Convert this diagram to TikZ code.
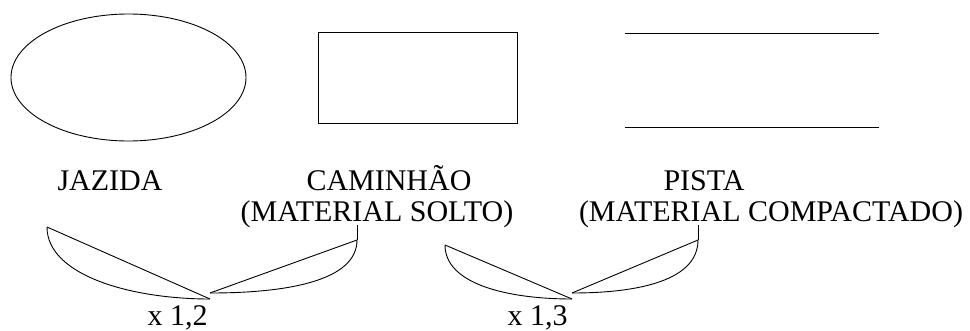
\documentclass[tikz,border=0pt]{standalone}
\usepackage{fontspec}
\setmainfont{Liberation Serif}
\begin{document}
\begin{tikzpicture}[x=1pt,y=-1pt,line width=0.9pt,
  lbl/.style={anchor=base,inner sep=0pt,font=\fontsize{30}{34}\selectfont}]
\useasboundingbox (0,0) rectangle (970,330);
\draw (128.5,77.5) ellipse [x radius=117.5,y radius=63.5];
\draw (318,32) rectangle (517,123);
\draw (625,33)--(879,33);
\draw (625,127)--(879,127);
\node[lbl] (jazida) at (110,190) {JAZIDA};
\node[lbl] (caminhao) at (389,190) {CAMINHÃO};
\node[lbl] (solto) at (377,221) {(MATERIAL SOLTO)};
\node[lbl] (pista) at (704,190) {PISTA};
\node[lbl] (compactado) at (771,221) {(MATERIAL COMPACTADO)};
\coordinate (a1) at (47,227);
\coordinate (b1) at (210,299);
\coordinate (c1) at (210,293);
\coordinate (d1) at (357,240);
\coordinate (a2) at (445,245);
\coordinate (b2) at (572,299);
\coordinate (c2) at (572,293);
\coordinate (d2) at (698,240);
\draw (a1)--(b1);
\draw (a1) .. controls (47,275) and (130,299) .. (b1);
\draw (c1)--(d1);
\draw (d1) .. controls (357,280) and (290,293) .. (c1);
\draw (d1)--++(0,-15);
\draw (a2)--(b2);
\draw (a2) .. controls (445,285) and (510,299) .. (b2);
\draw (c2)--(d2);
\draw (d2) .. controls (698,280) and (640,293) .. (c2);
\draw (d2)--++(0,-15);
\node[lbl,anchor=base east] (f1) at (208,325) {x 1,2};
\node[lbl,anchor=base east] (f2) at (568,325) {x 1,3};
\end{tikzpicture}
\end{document}
